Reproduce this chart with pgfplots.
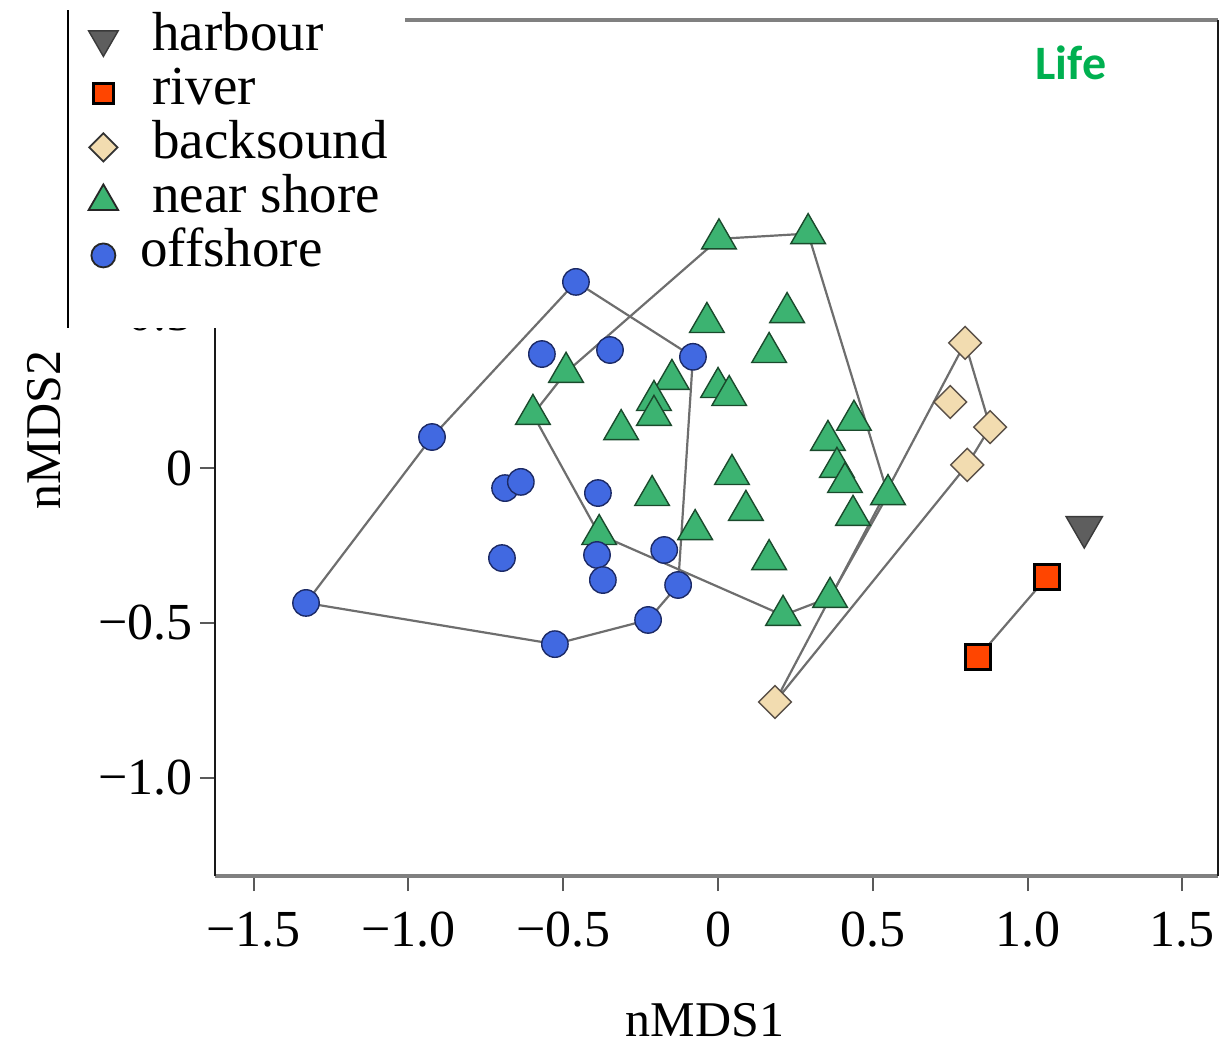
\documentclass[border=0pt]{standalone}
\usepackage{fontspec}
\setmainfont{Liberation Serif}
\newfontfamily\lifefont{Carlito}
\usepackage{pgfplots}
\pgfplotsset{compat=1.18}
\definecolor{offblue}{HTML}{4169E1}
\definecolor{offedge}{HTML}{1C2A66}
\definecolor{neargreen}{HTML}{3CB371}
\definecolor{nearedge}{HTML}{1A4A2C}
\definecolor{backfill}{HTML}{F2DCB0}
\definecolor{backedge}{HTML}{5A5048}
\definecolor{riverfill}{HTML}{FF4500}
\definecolor{harbfill}{HTML}{5E5E5E}
\definecolor{harbedge}{HTML}{3A3A3A}
\definecolor{hullgray}{HTML}{6E6E6E}
\definecolor{lifegreen}{HTML}{00B050}
\begin{document}
\begin{tikzpicture}
\begin{axis}[
  scale only axis, width=501.5pt, height=428pt,
  xmin=-1.625, xmax=1.615, ymin=-1.318, ymax=1.447,
  separate axis lines,
  x axis line style={color=black!50, line width=2pt},
  y axis line style={color=black!90, line width=1.2pt},
  xtick={-1.5,-1,-0.5,0,0.5,1,1.5},
  xticklabels={−1.5,−1.0,−0.5,0,0.5,1.0,1.5},
  ytick={-1,-0.5,0,0.5},
  yticklabels={−1.0,−0.5,0,0.5},
  tick align=outside, tick pos=left, major tick length=7.5pt,
  tick style={line width=1pt, color=black!65},
  tick label style={font=\fontsize{26}{30}\selectfont},
  xticklabel style={yshift=-7pt},
  xlabel={nMDS1}, ylabel={nMDS2},
  label style={font=\fontsize{25}{30}\selectfont},
  xlabel style={at={(axis description cs:0.4885,-0.168)}, anchor=center},
  ylabel style={at={(axis description cs:-0.17,0.521)}, anchor=center},
]
% near shore
\addplot[only marks, mark=triangle*, mark size=10pt, mark options={fill=neargreen, draw=nearedge, line width=0.7pt}] table {
x y
0.003 0.740
0.291 0.757
-0.036 0.470
0.223 0.502
0.165 0.373
-0.491 0.309
-0.149 0.286
0.000 0.260
0.036 0.234
-0.207 0.218
-0.207 0.170
-0.313 0.124
-0.598 0.173
0.439 0.154
0.355 0.089
0.384 0.002
0.410 -0.047
0.549 -0.086
0.436 -0.153
0.045 -0.021
0.090 -0.137
-0.213 -0.089
-0.074 -0.199
-0.384 -0.215
0.165 -0.296
0.362 -0.418
0.210 -0.476
};
% offshore
\addplot[only marks, mark=*, mark size=6.6pt, mark options={fill=offblue, draw=offedge, line width=0.7pt}] table {
x y
-0.459 0.601
-0.924 0.100
-1.331 -0.436
-0.527 -0.569
-0.226 -0.491
-0.129 -0.378
-0.081 0.359
-0.569 0.368
-0.349 0.381
-0.688 -0.065
-0.637 -0.045
-0.388 -0.081
-0.698 -0.291
-0.391 -0.281
-0.372 -0.362
-0.174 -0.265
};
% backsound
\addplot[only marks, mark=square*, mark size=5.8pt, mark options={rotate=45, fill=backfill, draw=backedge, line width=0.7pt}] table {
x y
0.798 0.404
0.750 0.213
0.879 0.132
0.805 0.010
0.184 -0.756
};
% river
\addplot[only marks, mark=square*, mark size=6.3pt, mark options={fill=riverfill, draw=black, line width=1.3pt}] table {
x y
1.063 -0.352
0.840 -0.611
};
% harbour
\addplot[only marks, mark=triangle*, mark size=10.5pt, mark options={rotate=180, fill=harbfill, draw=harbedge, line width=0.7pt}] table {
x y
1.183 -0.191
};
% hulls
\addplot[hullgray, line width=1.1pt, no marks] coordinates {
(-0.459,0.601) (-0.081,0.359) (-0.129,-0.378) (-0.226,-0.491) (-0.527,-0.569) (-1.331,-0.436) (-0.924,0.100) (-0.459,0.601)};
\addplot[hullgray, line width=1.1pt, no marks] coordinates {
(0.003,0.740) (0.291,0.757) (0.549,-0.086) (0.362,-0.418) (0.210,-0.476) (-0.384,-0.215) (-0.598,0.173) (-0.491,0.309) (0.003,0.740)};
\addplot[hullgray, line width=1.1pt, no marks] coordinates {
(0.798,0.404) (0.879,0.132) (0.805,0.010) (0.184,-0.756) (0.798,0.404)};
\addplot[hullgray, line width=1.1pt, no marks] coordinates {
(1.063,-0.352) (0.840,-0.611)};
\node[font=\lifefont\bfseries\fontsize{24}{28}\selectfont, text=lifegreen] at (axis cs:1.14,1.309) {Life};
\end{axis}
\fill[white] (-73.5pt,274pt) rectangle (95pt,445pt);
\draw[black, line width=1.2pt] (-73.5pt,274pt) -- (-73.5pt,433pt);
\begin{axis}[
  scale only axis, width=501.5pt, height=428pt,
  xmin=0, xmax=1, ymin=0, ymax=1, hide axis,
  legend cell align=left,
  legend style={at={(axis description cs:-0.1356,1.0093)}, anchor=north west,
    draw=none, fill=none, inner sep=0pt, column sep=12.5pt,
    font=\fontsize{27.5}{27}\selectfont,
    nodes={inner sep=0pt, text height=19pt, text depth=8pt}},
  legend image code/.code={\path[draw=none, fill=none] (-12pt,-8pt) rectangle (12pt,8pt); \draw[#1] plot coordinates {(0pt,0pt)};},
]
\addlegendimage{only marks, mark=triangle*, mark size=8.5pt, mark options={rotate=180, fill=harbfill, draw=harbedge, line width=0.7pt}}
\addlegendentry{harbour}
\addlegendimage{only marks, mark=square*, mark size=5pt, mark options={fill=riverfill, draw=black, line width=1.3pt}}
\addlegendentry{river}
\addlegendimage{only marks, mark=square*, mark size=5pt, mark options={rotate=45, fill=backfill, draw=black!80, line width=0.9pt}}
\addlegendentry{backsound}
\addlegendimage{only marks, mark=triangle*, mark size=8.5pt, mark options={fill=neargreen, draw=black!85, line width=0.9pt}}
\addlegendentry{near shore}
\addlegendimage{only marks, mark=*, mark size=6pt, mark options={fill=offblue, draw=black!85, line width=0.9pt}}
\addlegendentry{\hspace*{-6pt}offshore}
\end{axis}
\pgfresetboundingbox
\useasboundingbox (-107.5pt,-84pt) rectangle (502.5pt,438pt);
\end{tikzpicture}
\end{document}
